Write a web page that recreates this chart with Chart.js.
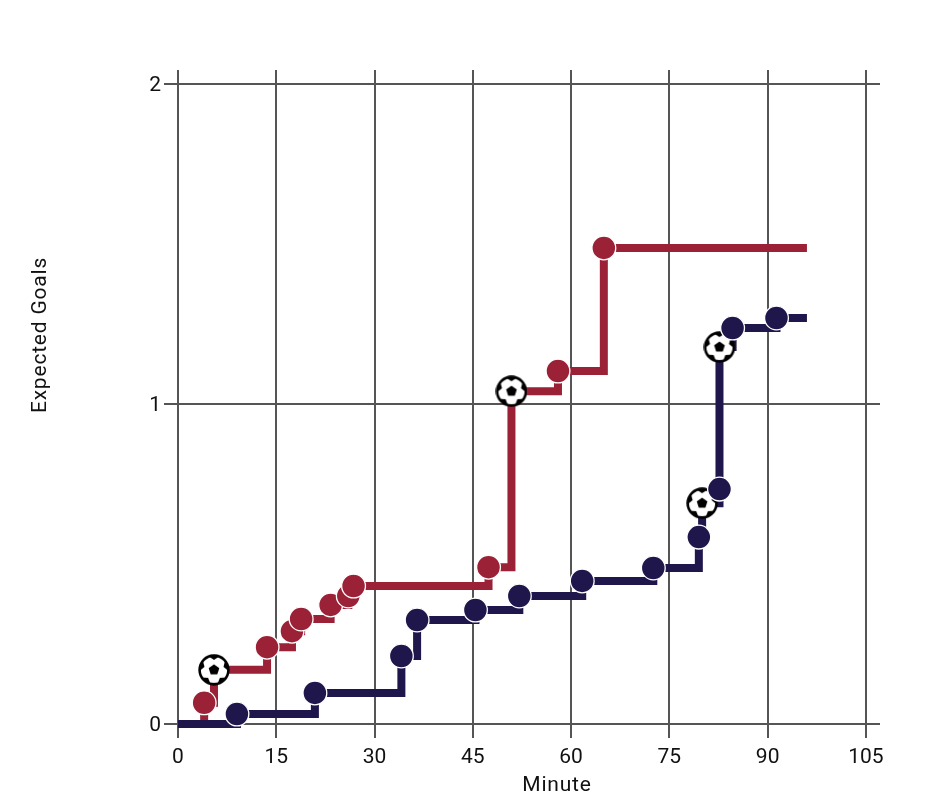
<!DOCTYPE html>
<html>
<head>
<meta charset="utf-8">
<style>html,body{margin:0;padding:0;background:#fff}canvas{display:block}</style>
<script src="https://cdn.jsdelivr.net/npm/chart.js@4/dist/chart.umd.min.js"></script>
</head>
<body>
<canvas id="c" width="938" height="810"></canvas>
<script>
// Values
const redMinutes  = [0, 4.0, 5.5, 13.6, 17.4, 18.8, 23.3, 26.0, 26.8, 47.4, 50.9, 58.0, 65.0, 96.0];
const redXg       = [0, 0.066, 0.169, 0.240, 0.290, 0.328, 0.372, 0.400, 0.431, 0.490, 1.040, 1.103, 1.488, 1.488];
const redKinds    = ['start','shot','goal','shot','shot','shot','shot','shot','shot','shot','goal','shot','shot','end'];
const navyMinutes = [0, 9.0, 20.9, 34.1, 36.5, 45.4, 52.1, 61.7, 72.55, 79.5, 80.0, 82.65, 82.65, 84.65, 91.35, 96.0];
const navyXg      = [0, 0.031, 0.097, 0.2125, 0.325, 0.356, 0.400, 0.447, 0.4875, 0.584, 0.690, 0.734, 1.178, 1.2375, 1.269, 1.269];
const navyKinds   = ['start','shot','shot','shot','shot','shot','shot','shot','shot','shot','goal','shot','goal','shot','shot','end'];
const xTickValues = [0, 15, 30, 45, 60, 75, 90, 105];
const yTickValues = [0, 1, 2];
const xAxisTitle  = 'Minute';
const yAxisTitle  = 'Expected Goals';

const RED = '#9b2137', NAVY = '#1f164b', GRID = '#555555', INK = '#111111';
const FONT = 'Roboto, sans-serif';

function ballImage() {
  const s = 32, c = document.createElement('canvas');
  c.width = c.height = s;
  const g = c.getContext('2d'), m = s / 2;
  g.beginPath(); g.arc(m, m, 14.4, 0, Math.PI * 2); g.fillStyle = '#fff'; g.fill();
  g.save(); g.clip();
  g.fillStyle = '#000';
  for (let i = 0; i < 5; i++) {
    const a = (-90 + 72 * i) * Math.PI / 180, d = 0.45;
    g.beginPath();
    g.moveTo(m + 10 * Math.cos(a), m + 10 * Math.sin(a));
    g.lineTo(m + 16 * Math.cos(a - d), m + 16 * Math.sin(a - d));
    g.lineTo(m + 16 * Math.cos(a + d), m + 16 * Math.sin(a + d));
    g.closePath(); g.fill();
  }
  g.restore();
  g.beginPath(); g.arc(m, m, 14.4, 0, Math.PI * 2);
  g.lineWidth = 2.6; g.strokeStyle = '#000'; g.stroke();
  g.beginPath();
  for (let i = 0; i < 5; i++) {
    const a = (-90 + 72 * i) * Math.PI / 180;
    g[i ? 'lineTo' : 'moveTo'](m + 5.6 * Math.cos(a), m + 5.6 * Math.sin(a));
  }
  g.closePath(); g.fillStyle = '#000'; g.fill();
  return c;
}
const ball = ballImage();

const toPoints = (xs, ys) => xs.map((x, i) => ({ x, y: ys[i] }));
const pick = (xs, ys, kinds, kind) => toPoints(xs, ys).filter((_, i) => kinds[i] === kind);

const stepLine = (data, color, order) => ({
  data, order, type: 'line', stepped: true, borderColor: color, borderWidth: 8,
  borderCapStyle: 'butt', borderJoinStyle: 'miter', pointRadius: 0, fill: false, clip: false
});
const shots = (data, color, order) => ({
  data, order, type: 'line', showLine: false, pointStyle: 'circle', pointRadius: 11.9,
  pointBackgroundColor: color, pointBorderColor: '#fff', pointBorderWidth: 1.3, clip: false
});
const goals = (data, order) => ({
  data, order, type: 'line', showLine: false, pointStyle: ball, pointRadius: 16, clip: false
});

const axisTitles = {
  id: 'axisTitles',
  afterDraw(chart) {
    const g = chart.ctx;
    g.save();
    g.fillStyle = INK;
    g.font = '21px ' + FONT;
    g.letterSpacing = '0.8px';
    g.textAlign = 'center';
    g.textBaseline = 'middle';
    g.fillText(xAxisTitle, 557, 786);
    g.translate(41, 335);
    g.rotate(-Math.PI / 2);
    g.fillText(yAxisTitle, 0, 0);
    g.restore();
  }
};

new Chart(document.getElementById('c'), {
  type: 'line',
  plugins: [axisTitles],
  data: {
    datasets: [
      stepLine(toPoints(redMinutes, redXg), RED, 6),
      stepLine(toPoints(navyMinutes, navyXg), NAVY, 5),
      goals(pick(redMinutes, redXg, redKinds, 'goal'), 4),
      goals(pick(navyMinutes, navyXg, navyKinds, 'goal'), 3),
      shots(pick(redMinutes, redXg, redKinds, 'shot'), RED, 2),
      shots(pick(navyMinutes, navyXg, navyKinds, 'shot'), NAVY, 1)
    ]
  },
  options: {
    responsive: false,
    animation: false,
    devicePixelRatio: 1,
    layout: { padding: { left: 0, right: 58, top: 70, bottom: 0 } },
    plugins: { legend: { display: false }, tooltip: { enabled: false }, title: { display: false } },
    scales: {
      x: {
        type: 'linear', min: -2.13, max: 107.15,
        afterBuildTicks: a => { a.ticks = xTickValues.map(value => ({ value })); },
        afterFit: a => { a.height = 72; },
        grid: { color: GRID, lineWidth: 2, drawTicks: false, tickLength: 0 },
        border: { display: false },
        ticks: { color: INK, font: { family: FONT, size: 21 }, padding: 7, maxRotation: 0, autoSkip: false, callback: v => String(v) }
      },
      y: {
        type: 'linear', min: -0.044, max: 2.044,
        afterBuildTicks: a => { a.ticks = yTickValues.map(value => ({ value })); },
        afterFit: a => { a.width = 164; },
        grid: { color: GRID, lineWidth: 2, drawTicks: false, tickLength: 0 },
        border: { display: false },
        ticks: { color: INK, font: { family: FONT, size: 21 }, padding: 3, labelOffset: 2, autoSkip: false, callback: v => String(v) }
      }
    }
  }
});
</script>
</body>
</html>
